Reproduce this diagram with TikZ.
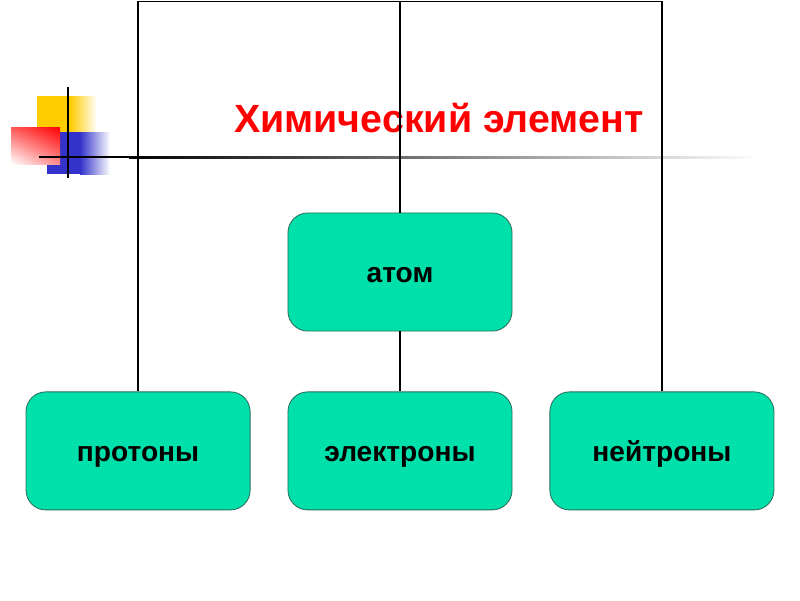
\documentclass[tikz,border=0pt]{standalone}
\usepackage{fontspec}
\setmainfont{Liberation Sans}
\usepackage{tikz}
\usetikzlibrary{positioning, shadings}
\definecolor{boxfill}{HTML}{00E0AA}
\definecolor{boxline}{HTML}{2A6E5C}
\definecolor{titlered}{HTML}{FF0000}
\definecolor{decoyellow}{HTML}{FFCC00}
\definecolor{decoblue}{HTML}{3333CC}

\tikzset{
  partbox/.style={draw=boxline, line width=0.6pt, fill=boxfill,
    rounded corners=14pt, minimum width=5.6cm, minimum height=2.95cm,
    text height=15pt, text depth=0pt,
    font=\bfseries\fontsize{20}{24}\selectfont},
  frameline/.style={line width=1.4pt, black},
}

\begin{document}
\begin{tikzpicture}[x=0.025cm, y=-0.025cm]
    \useasboundingbox (0,0) rectangle (800,600);

    % corner decoration
    \fill[decoyellow] (37,96) rectangle (70,133);
    \shade[left color=decoyellow, right color=white] (70,96) rectangle (97,133);
    \fill[decoblue] (47,132) rectangle (80,174);
    \shade[left color=decoblue, right color=white] (80,132) rectangle (110,174);
    \shade[upper left=red!65!white, upper right=red,
           lower left=white, lower right=red!45!white] (11,127) rectangle (60,164);
    \draw[line width=1.4pt] (68,87) -- (68,178);
    \draw[line width=1.4pt] (39,157) -- (130,157);
    \shade[left color=black, middle color=black!50, right color=white]
        (129,156) rectangle (760,158);

    % title
    \node[anchor=base, text=titlered, font=\bfseries\fontsize{28}{32}\selectfont]
        (title) at (439,132) {Химический элемент};

    % boxes
    \node[partbox] (atom) at (400,272) {атом};
    \node[partbox, below=1.5cm of atom] (electrons) {электроны};
    \node[partbox, left=0.925cm of electrons] (protons) {протоны};
    \node[partbox, right=0.925cm of electrons] (neutrons) {нейтроны};

    % connectors
    \coordinate (top) at (400,1.5);
    \draw[frameline] (protons.north) -- (protons.north |- top)
        -- (neutrons.north |- top) -- (neutrons.north);
    \draw[frameline] (atom.north) -- (atom.north |- top);
    \draw[frameline] (atom.south) -- (electrons.north);
\end{tikzpicture}
\end{document}
